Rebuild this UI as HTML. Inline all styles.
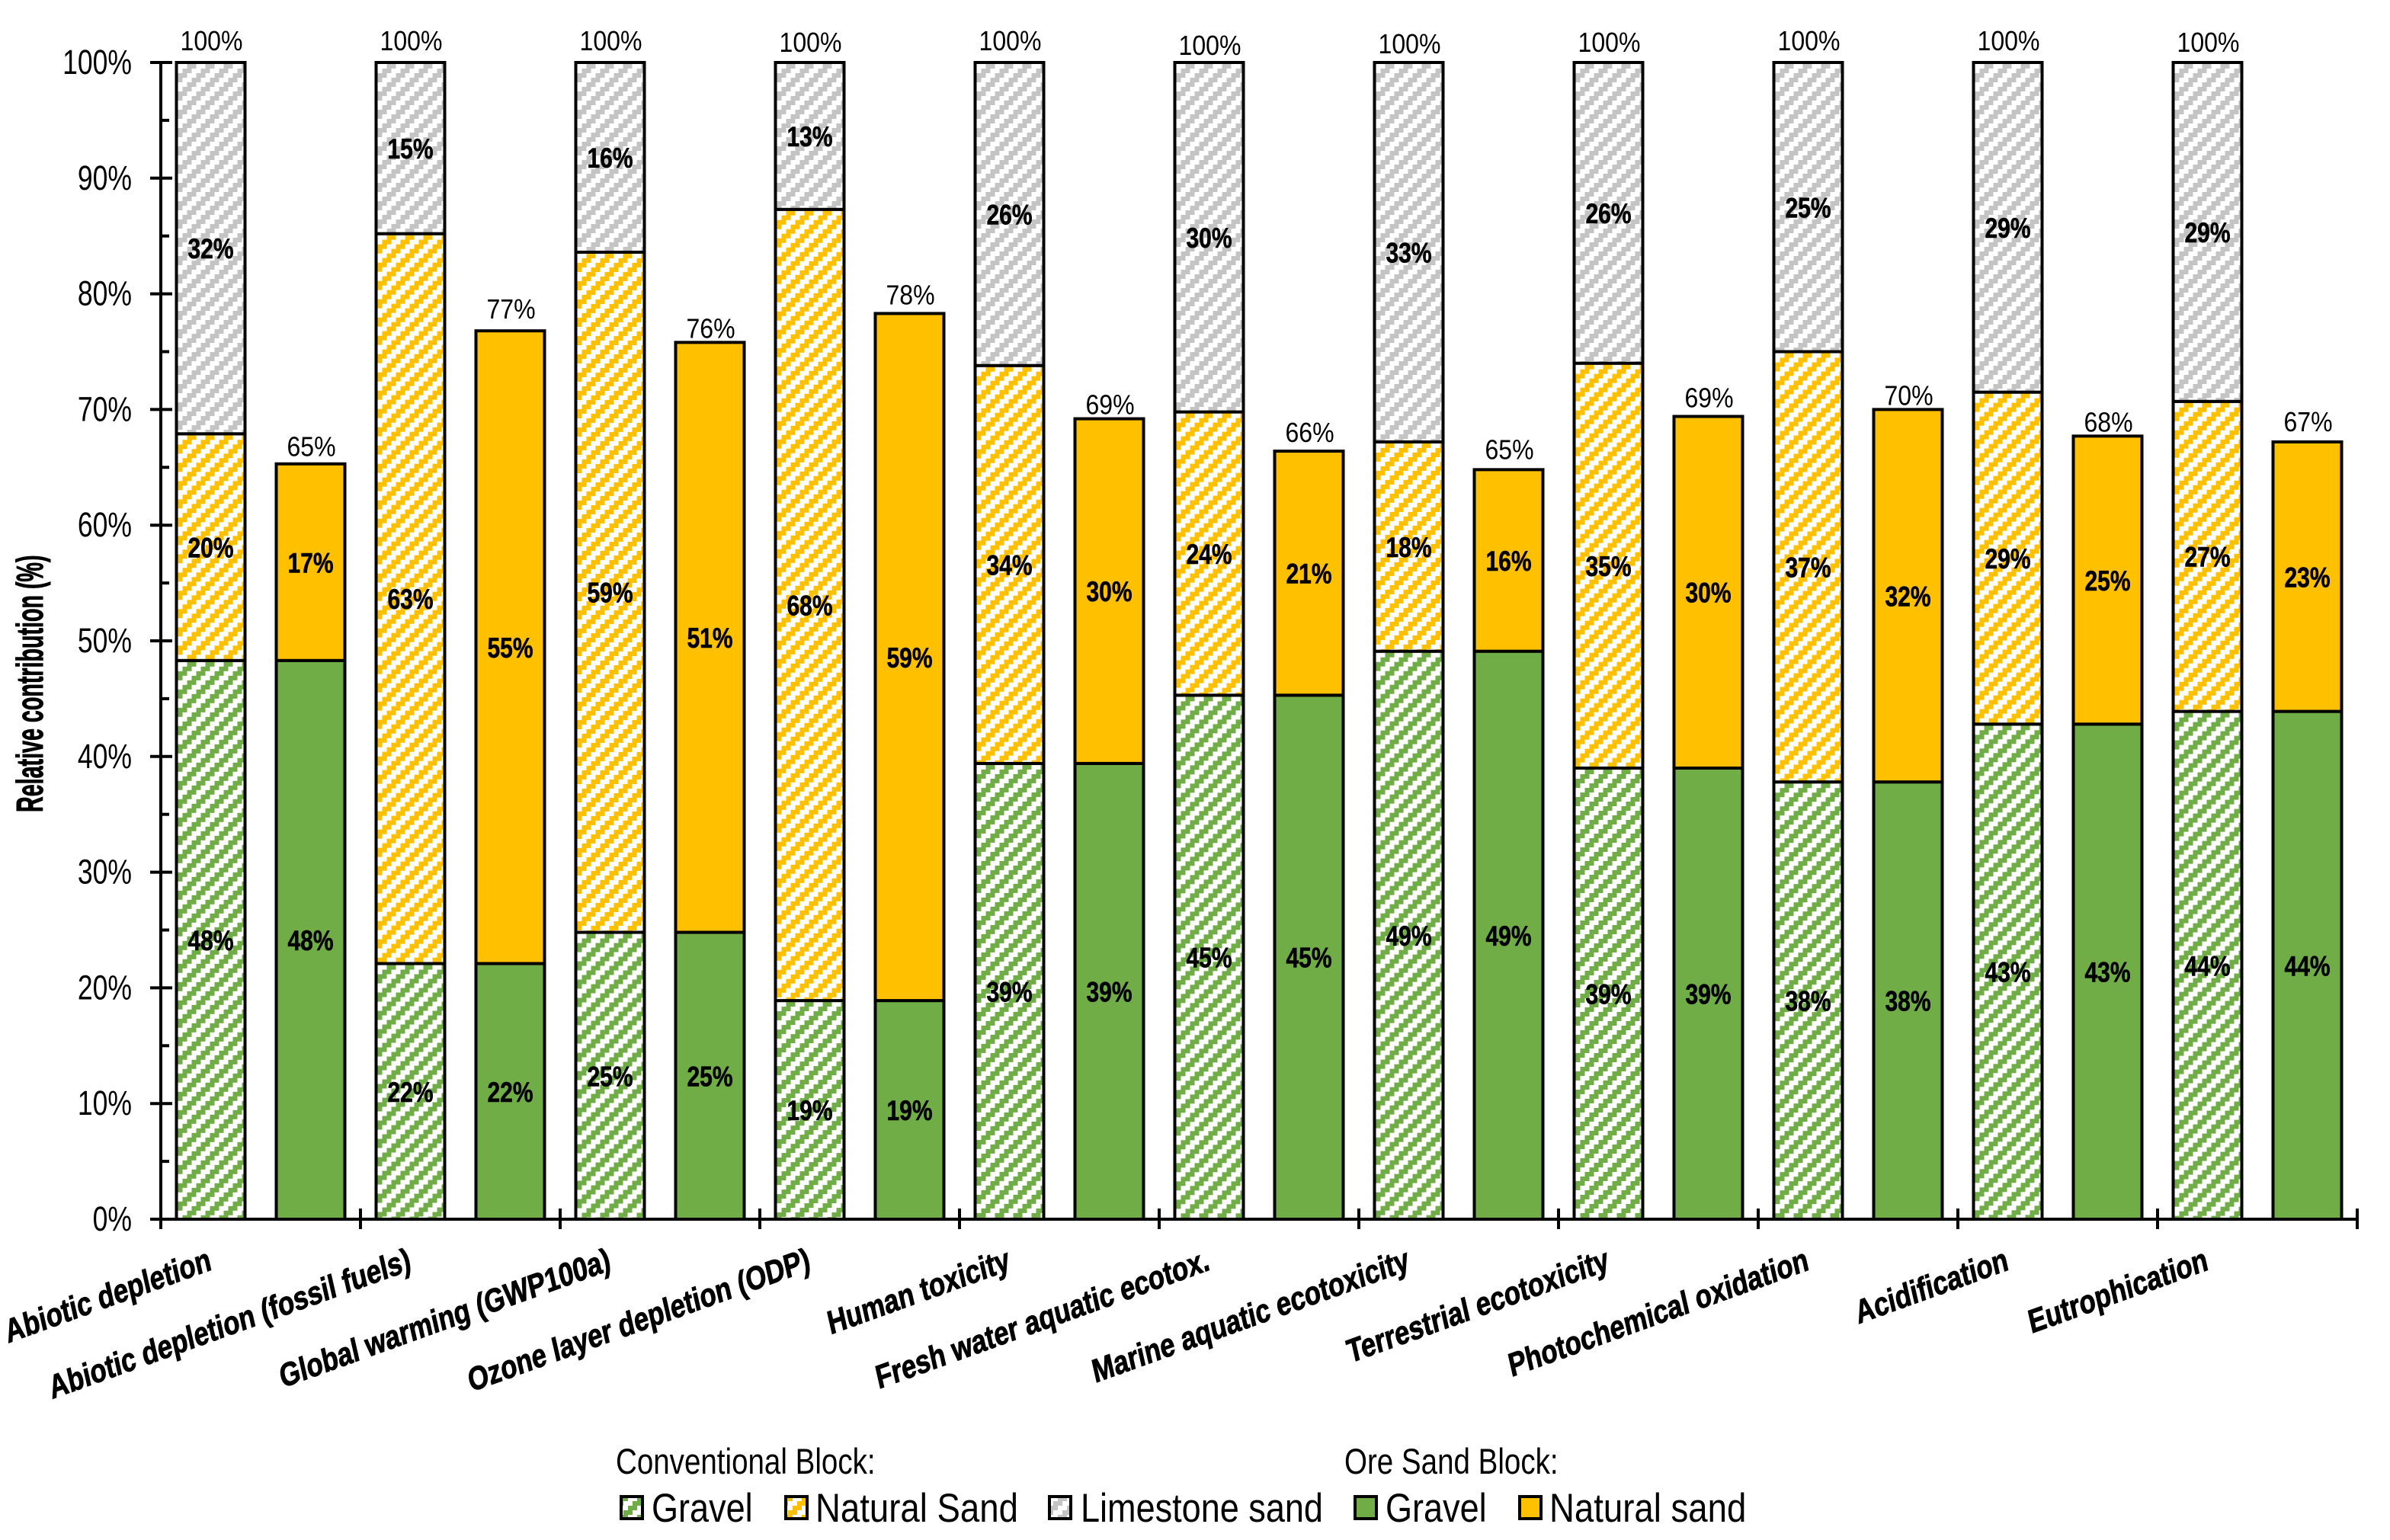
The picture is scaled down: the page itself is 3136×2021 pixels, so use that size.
<!DOCTYPE html>
<html>
<head>
<meta charset="utf-8">
<title>Relative contribution chart</title>
<style>
html,body{margin:0;padding:0;background:#fff;}
svg{display:block;}
text{font-family:"Liberation Sans",Arial,sans-serif;fill:#000;}
</style>
</head>
<body>
<svg id="chart" xmlns="http://www.w3.org/2000/svg" width="3136" height="2021" viewBox="0 0 3136 2021">
  <defs>
    <pattern id="hatch-green" patternUnits="userSpaceOnUse" width="24" height="24" patternTransform="translate(2,2)">
      <rect width="24" height="24" fill="#fff"/>
      <path d="M12 0h12v6H12zM6 6h12v6H6zM0 12h12v6H0zM18 18h6v6h-6zM0 18h6v6H0z" fill="#70ad47"/>
    </pattern>
    <pattern id="hatch-yellow" patternUnits="userSpaceOnUse" width="24" height="24" patternTransform="translate(2,2)">
      <rect width="24" height="24" fill="#fff"/>
      <path d="M12 0h12v6H12zM6 6h12v6H6zM0 12h12v6H0zM18 18h6v6h-6zM0 18h6v6H0z" fill="#ffc000"/>
    </pattern>
    <pattern id="hatch-gray" patternUnits="userSpaceOnUse" width="24" height="24" patternTransform="translate(2,2)">
      <rect width="24" height="24" fill="#fff"/>
      <path d="M12 0h12v6H12zM6 6h12v6H6zM0 12h12v6H0zM18 18h6v6h-6zM0 18h6v6H0z" fill="#c4c4c4"/>
    </pattern>
  </defs>
  <g id="bars"></g>
  <g id="bar-labels"></g>
  <g id="axes"></g>

  <text transform="translate(56,1066) rotate(-90) scale(0.61,1.05)" font-size="47" font-weight="bold" stroke="#000" stroke-width="1">Relative contribution (%)</text>

  <g>
    <text transform="translate(808,1934) scale(0.82,1)" font-size="47">Conventional Block:</text>
    <text transform="translate(1764,1934) scale(0.82,1)" font-size="47">Ore Sand Block:</text>

    <g>
      <rect x="815" y="1964" width="28" height="29" fill="url(#hatch-green)" stroke="#000" stroke-width="4"/>
      <text transform="translate(855,1997) scale(0.85,1)" font-size="53">Gravel</text>
    </g>
    <g>
      <rect x="1031" y="1964" width="28" height="29" fill="url(#hatch-yellow)" stroke="#000" stroke-width="4"/>
      <text transform="translate(1070,1997) scale(0.86,1)" font-size="53">Natural Sand</text>
    </g>
    <g>
      <rect x="1377" y="1964" width="28" height="29" fill="url(#hatch-gray)" stroke="#000" stroke-width="4"/>
      <text transform="translate(1418,1997) scale(0.85,1)" font-size="53">Limestone sand</text>
    </g>
    <g>
      <rect x="1778" y="1964" width="28" height="29" fill="#70ad47" stroke="#000" stroke-width="4"/>
      <text transform="translate(1818,1997) scale(0.85,1)" font-size="53">Gravel</text>
    </g>
    <g>
      <rect x="1994" y="1964" width="28" height="29" fill="#ffc000" stroke="#000" stroke-width="4"/>
      <text transform="translate(2033,1997) scale(0.86,1)" font-size="53">Natural sand</text>
    </g>
  </g>
</svg>
<script>
const categories = [
  "Abiotic depletion",
  "Abiotic depletion (fossil fuels)",
  "Global warming (GWP100a)",
  "Ozone layer depletion (ODP)",
  "Human toxicity",
  "Fresh water aquatic ecotox.",
  "Marine aquatic ecotoxicity",
  "Terrestrial ecotoxicity",
  "Photochemical oxidation",
  "Acidification",
  "Eutrophication"
];
const conventionalGravel    = [48.3, 22.1, 24.8, 18.9, 39.4, 45.3, 49.1, 39.0, 37.8, 42.8, 43.9];
const conventionalNatural   = [19.6, 63.1, 58.8, 68.4, 34.4, 24.49, 18.1, 35.0, 37.2, 28.7, 26.8];
const conventionalLimestone = [32.1, 14.8, 16.4, 12.7, 26.2, 30.21, 32.8, 26.0, 25.0, 28.5, 29.3];
const oreGravel             = [48.3, 22.1, 24.8, 18.9, 39.4, 45.3, 49.1, 39.0, 37.8, 42.8, 43.9];
const oreNatural            = [17.0, 54.7, 51.0, 59.4, 29.8, 21.1, 15.7, 30.4, 32.2, 24.9, 23.3];
const yTicks = [0, 10, 20, 30, 40, 50, 60, 70, 80, 90, 100];
const yMinorTicks = [5, 15, 25, 35, 45, 55, 65, 75, 85, 95];

/* Layout only: the source chart's hand-placed gap between a bar top and its total label */
const conventionalTotalGap = [16, 16, 16, 14, 16, 10, 12, 14, 16, 16, 14];
const oreTotalGap = [10, 16, 6, 12, 6, 12, 14, 12, 6, 6, 14];

const NS = "http://www.w3.org/2000/svg";
const plotLeft = 211, plotBottom = 1600, plotTop = 82, catWidth = 262, barWidth = 90;
const yScale = v => plotBottom - v * (plotBottom - plotTop) / 100;
const xCat = i => plotLeft + catWidth * i;
const xBar = (i, slot) => xCat(i) + catWidth * (slot === 0 ? 0.25 : 0.75);

function make(tag, attrs, parent, content) {
  const el = document.createElementNS(NS, tag);
  for (const k in attrs) el.setAttribute(k, attrs[k]);
  if (content !== undefined) el.textContent = content;
  parent.appendChild(el);
  return el;
}

const barsG = document.getElementById("bars");
const labelsG = document.getElementById("bar-labels");
const axesG = document.getElementById("axes");

function drawStack(i, slot, series, kind, gaps) {
  let cum = 0;
  const cx = xBar(i, slot);
  series.forEach(function (s) {
    const top = yScale(cum + s.values[i]);
    const bottom = yScale(cum);
    const seg = make("rect", {
      x: 0, y: 0, width: barWidth, height: bottom - top,
      transform: "translate(" + (cx - barWidth / 2) + "," + top + ")",
      fill: s.fill, stroke: "#000", "stroke-width": 4
    }, barsG);
    
    
    const lab = make("text", {
      transform: "translate(" + cx + "," + ((top + bottom) / 2 + 13.5) + ") scale(0.8,1)",
      "text-anchor": "middle", "font-size": 37.5, "font-weight": "bold",
      stroke: "#000", "stroke-width": 0.6
    }, labelsG, Math.round(s.values[i]) + "%");
    
    
    cum += s.values[i];
  });
  const total = make("text", {
    transform: "translate(" + (cx + 1) + "," + (yScale(cum) - gaps[i]) + ") scale(0.89,1)",
    "text-anchor": "middle", "font-size": 36
  }, labelsG, Math.round(cum) + "%");
  
  
}

const conventionalSeries = [
  { key: "gravel", values: conventionalGravel, fill: "url(#hatch-green)" },
  { key: "natural-sand", values: conventionalNatural, fill: "url(#hatch-yellow)" },
  { key: "limestone-sand", values: conventionalLimestone, fill: "url(#hatch-gray)" }
];
const oreSeries = [
  { key: "gravel", values: oreGravel, fill: "#70ad47" },
  { key: "natural-sand", values: oreNatural, fill: "#ffc000" }
];

categories.forEach(function (name, i) {
  drawStack(i, 0, conventionalSeries, "conventional", conventionalTotalGap);
  drawStack(i, 1, oreSeries, "ore", oreTotalGap);
});

const yAxisLine = make("line", { x1: plotLeft, x2: plotLeft, y1: plotTop - 2, y2: plotBottom + 13, stroke: "#000", "stroke-width": 4 }, axesG);


const xAxisLine = make("line", { x1: plotLeft, x2: xCat(categories.length) + 2, y1: plotBottom, y2: plotBottom, stroke: "#000", "stroke-width": 4 }, axesG);



yTicks.forEach(function (t) {
  const tick = make("line", { x1: 197, x2: 226, y1: yScale(t), y2: yScale(t), stroke: "#000", "stroke-width": 4 }, axesG);
  
  
  const lab = make("text", {
    transform: "translate(173," + (yScale(t) + 15) + ") scale(0.79,1)",
    "text-anchor": "end", "font-size": 45
  }, axesG, t + "%");
  
  
});
yMinorTicks.forEach(function (t) {
  const tick = make("line", { x1: plotLeft, x2: 222, y1: yScale(t), y2: yScale(t), stroke: "#000", "stroke-width": 4 }, axesG);
  
  
});

for (let i = 1; i <= categories.length; i++) {
  const tick = make("line", { x1: xCat(i), x2: xCat(i), y1: 1586, y2: 1613, stroke: "#000", "stroke-width": 4 }, axesG);
  
  
}

categories.forEach(function (name, i) {
  const lab = make("text", {
    transform: "matrix(0.77,-0.277,0.22,0.97," + (xCat(i) + catWidth / 2 - 63) + ",1666)",
    "text-anchor": "end", "font-size": 43, "font-weight": "bold",
    stroke: "#000", "stroke-width": 1
  }, axesG, name);
  
  
});
</script>
</body>
</html>
